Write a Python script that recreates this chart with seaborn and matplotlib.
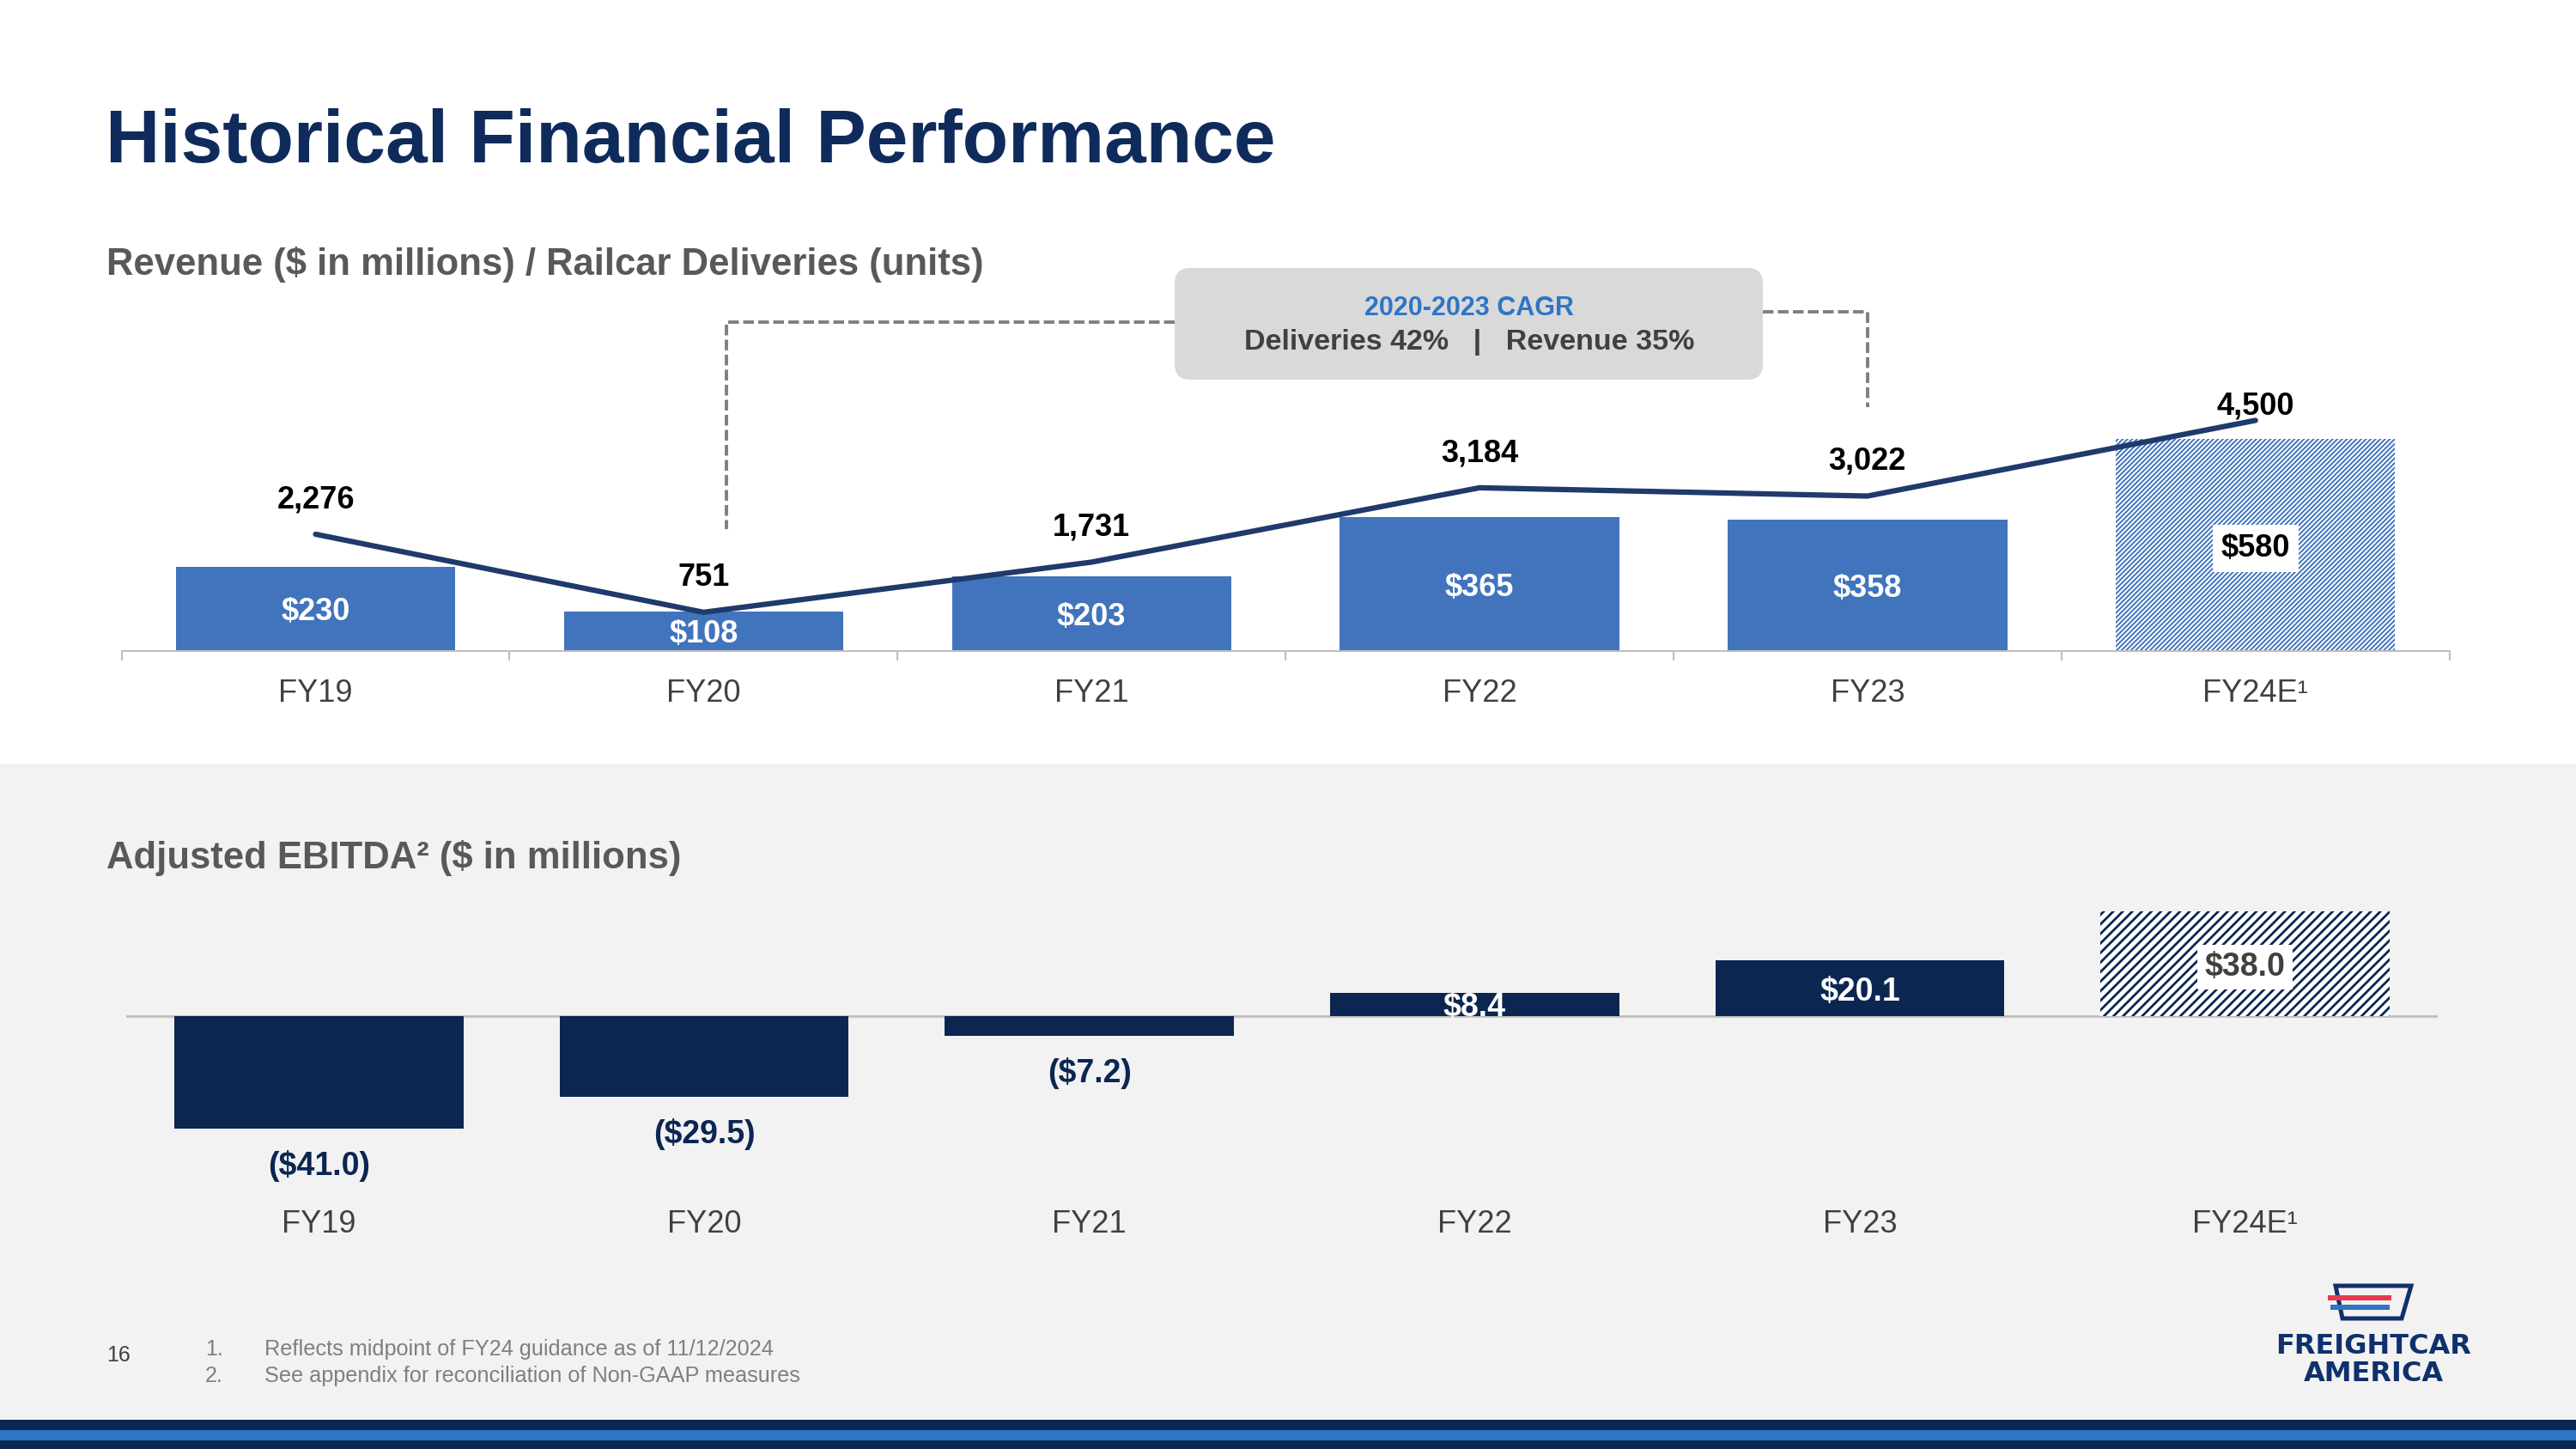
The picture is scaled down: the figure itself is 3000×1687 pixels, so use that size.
import numpy as np
import matplotlib
matplotlib.use("Agg")
import matplotlib.pyplot as plt
import matplotlib.patches as mpatches
import matplotlib.transforms as mtransforms
from matplotlib.lines import Line2D
import seaborn as sns

# ---- data ----
years = ["FY19", "FY20", "FY21", "FY22", "FY23", "FY24E"]
tick_labels = ["FY19", "FY20", "FY21", "FY22", "FY23", "FY24E\u00b9"]
revenue = [230, 108, 203, 365, 358, 580]
revenue_labels = ["$230", "$108", "$203", "$365", "$358", "$580"]
deliveries = [2276, 751, 1731, 3184, 3022, 4500]
delivery_labels = ["2,276", "751", "1,731", "3,184", "3,022", "4,500"]
ebitda = [-41.0, -29.5, -7.2, 8.4, 20.1, 38.0]
ebitda_labels = ["($41.0)", "($29.5)", "($7.2)", "$8.4", "$20.1", "$38.0"]
footnotes = ["Reflects midpoint of FY24 guidance as of 11/12/2024",
             "See appendix for reconciliation of Non-GAAP measures"]

# colours
NAVY = "#0C2652"
TITLE_NAVY = "#0F2B5C"
BAR_BLUE = "#4174BD"
LINE_NAVY = "#1F3A6B"
GRAY_TXT = "#404040"
SUB_GRAY = "#595959"
AXIS_GRAY = "#BFBFBF"
LIGHT_BG = "#F2F2F2"
ACCENT_BLUE = "#2E75C6"
LOGO_NAVY = "#10306C"
LOGO_RED = "#E63A4E"

sns.set_style("white")
plt.rcParams["font.family"] = ["Liberation Sans", "DejaVu Sans"]
plt.rcParams["hatch.linewidth"] = 1.6

W, H = 3000, 1687
fig = plt.figure(figsize=(W / 100, H / 100), dpi=100)
fig.patch.set_facecolor("white")
# pixel coordinates with origin at top-left
px = mtransforms.Affine2D().scale(1 / 100, -1 / 100).translate(0, H / 100) + fig.dpi_scale_trans


def frac(x0, y0, x1, y1):
    return [x0 / W, 1 - y1 / H, (x1 - x0) / W, (y1 - y0) / H]


def hatch_bar(patch, color, pattern, lw):
    patch.set_facecolor("white")
    patch.set_edgecolor(color)
    patch.set_hatch(pattern)
    patch.set_linewidth(0)
    if hasattr(patch, "set_hatch_linewidth"):
        patch.set_hatch_linewidth(lw)


# background panel + bottom stripes
fig.add_artist(mpatches.Rectangle((0, 889), W, 764, transform=px, color=LIGHT_BG, lw=0, zorder=-2))
for y0, h, c in [(1653, 12, NAVY), (1665, 11.5, ACCENT_BLUE), (1676.5, 10.5, NAVY)]:
    fig.add_artist(mpatches.Rectangle((0, y0), W, h, transform=px, color=c, lw=0, zorder=-1))

# titles
fig.text(123, 167, "Historical Financial Performance", transform=px, fontsize=63,
         fontweight="bold", color=TITLE_NAVY, va="center", ha="left")
fig.text(124, 308, "Revenue ($ in millions) / Railcar Deliveries (units)", transform=px,
         fontsize=31.4, fontweight="bold", color=SUB_GRAY, va="center", ha="left")
fig.text(124, 999, "Adjusted EBITDA\u00b2 ($ in millions)", transform=px,
         fontsize=31.4, fontweight="bold", color=SUB_GRAY, va="center", ha="left")

# ---- revenue / deliveries chart ----
ax = fig.add_axes(frac(141.6, 440, 2852.6, 757.6))
ax.set_facecolor("none")
sns.barplot(x=years, y=revenue, color=BAR_BLUE, saturation=1, width=0.72,
            linewidth=0, errorbar=None, ax=ax)
hatch_bar(ax.patches[-1], BAR_BLUE, "//////", 1.4)

rev_txt = ax.bar_label(ax.containers[0], labels=revenue_labels, label_type="center",
                       color="white", fontsize=26, fontweight="bold")
for t in rev_txt:
    t.set_va("center_baseline")
rev_txt[-1].set_color("black")
rev_txt[-1].set_bbox(dict(facecolor="white", edgecolor="none", pad=7))

ax2 = ax.twinx()
sns.lineplot(x=np.arange(len(years)), y=deliveries, color=LINE_NAVY, linewidth=4.5,
             solid_capstyle="round", ax=ax2)
delivery_offsets = [29, 29, 29, 29, 29, 12]
for i, (v, lab, off) in enumerate(zip(deliveries, delivery_labels, delivery_offsets)):
    ax2.annotate(lab, (i, v), xytext=(0, off), textcoords="offset points",
                 ha="center", va="center", fontsize=26, fontweight="bold", color="black",
                 annotation_clip=False)

ax.set_ylim(0, 747)
ax2.set_ylim(0, 5330)
ax.set_xlim(-0.5, 5.5)
ax.set_xticks(range(len(years)), tick_labels)
ax.set_xticks(np.arange(-0.5, 6.0, 1.0), minor=True)
ax.tick_params(axis="x", which="major", length=0, pad=23.5, labelsize=26, labelcolor=GRAY_TXT)
ax.tick_params(axis="x", which="minor", bottom=True, length=8, width=1.5,
               color=AXIS_GRAY, direction="out")
ax.set_yticks([])
ax2.set_yticks([])
ax.set_xlabel("")
ax.set_ylabel("")
ax2.set_ylabel("")
for name, s in ax.spines.items():
    s.set_visible(name == "bottom")
ax.spines["bottom"].set_color(AXIS_GRAY)
ax.spines["bottom"].set_linewidth(1.5)
for s in ax2.spines.values():
    s.set_visible(False)

# CAGR call-out
dash = (0, (3.2, 1.3))
fig.add_artist(Line2D([1368, 846, 846], [375, 375, 616], transform=px, color="#7F7F7F",
                      lw=2.8, ls=dash, zorder=1))
fig.add_artist(Line2D([2053, 2175, 2175], [363, 363, 474], transform=px, color="#7F7F7F",
                      lw=2.8, ls=dash, zorder=1))
fig.add_artist(mpatches.FancyBboxPatch((1368, 312), 685, 130,
                                       boxstyle="round,pad=0,rounding_size=18",
                                       transform=px, facecolor="#D9D9D9",
                                       edgecolor="none", zorder=2))
fig.text(1711, 359, "2020-2023 CAGR", transform=px, fontsize=22, fontweight="bold",
         color=ACCENT_BLUE, ha="center", va="center", zorder=3)
fig.text(1711, 399, "Deliveries 42%   |   Revenue 35%", transform=px, fontsize=24.5,
         fontweight="bold", color=GRAY_TXT, ha="center", va="center", zorder=3)

# ---- EBITDA chart ----
bx = fig.add_axes(frac(147, 1040, 2839, 1380))
bx.set_facecolor("none")
sns.barplot(x=years, y=ebitda, color=NAVY, saturation=1, width=0.75,
            linewidth=0, errorbar=None, ax=bx)
hatch_bar(bx.patches[-1], NAVY, "///", 2.0)
bx.axhline(0, color=AXIS_GRAY, lw=2, zorder=0.5)

cont = bx.containers[0]
bx.bar_label(cont, labels=[l if v < 0 else "" for v, l in zip(ebitda, ebitda_labels)],
             padding=18, color=NAVY, fontsize=27, fontweight="bold")
pos_txt = bx.bar_label(cont, labels=[l if v > 0 else "" for v, l in zip(ebitda, ebitda_labels)],
                       label_type="center", color="white", fontsize=27, fontweight="bold")
for t in pos_txt:
    t.set_va("center_baseline")
pos_txt[-1].set_color(GRAY_TXT)
pos_txt[-1].set_bbox(dict(facecolor="white", edgecolor="none", pad=6))

bx.set_ylim(-61.7, 44.6)
bx.set_xlim(-0.5, 5.5)
bx.set_xticks(range(len(years)), tick_labels)
bx.tick_params(axis="x", length=0, pad=20, labelsize=26, labelcolor=GRAY_TXT)
bx.set_yticks([])
bx.set_xlabel("")
bx.set_ylabel("")
for s in bx.spines.values():
    s.set_visible(False)

# ---- footer ----
fig.text(124, 1578, "16", transform=px, fontsize=18, color=GRAY_TXT, va="center", ha="left")
for k, note in enumerate(footnotes):
    y = 1571 + k * 31
    fig.text(239, y, f"{k + 1}.", transform=px, fontsize=18.2, color="#7F7F7F", va="center", ha="left")
    fig.text(308, y, note, transform=px, fontsize=18.2, color="#7F7F7F", va="center", ha="left")

# logo
fig.add_artist(mpatches.Polygon([(2720, 1497), (2808, 1497), (2797, 1535), (2728, 1535)],
                                closed=True, transform=px, fill=False, edgecolor=LOGO_NAVY,
                                lw=3.6, joinstyle="miter"))
fig.add_artist(mpatches.Rectangle((2711, 1508), 74, 6, transform=px, color=LOGO_RED, lw=0))
fig.add_artist(mpatches.Rectangle((2714, 1519), 69, 6, transform=px, color=ACCENT_BLUE, lw=0))
fig.text(2764, 1567, "FREIGHTCAR", transform=px, ha="center", va="center", fontsize=23,
         fontweight="bold", color=LOGO_NAVY, family="DejaVu Sans")
fig.text(2764, 1600, "AMERICA", transform=px, ha="center", va="center", fontsize=23,
         fontweight="bold", color=LOGO_NAVY, family="DejaVu Sans")

fig.savefig("out.png", dpi=100, facecolor="white")
